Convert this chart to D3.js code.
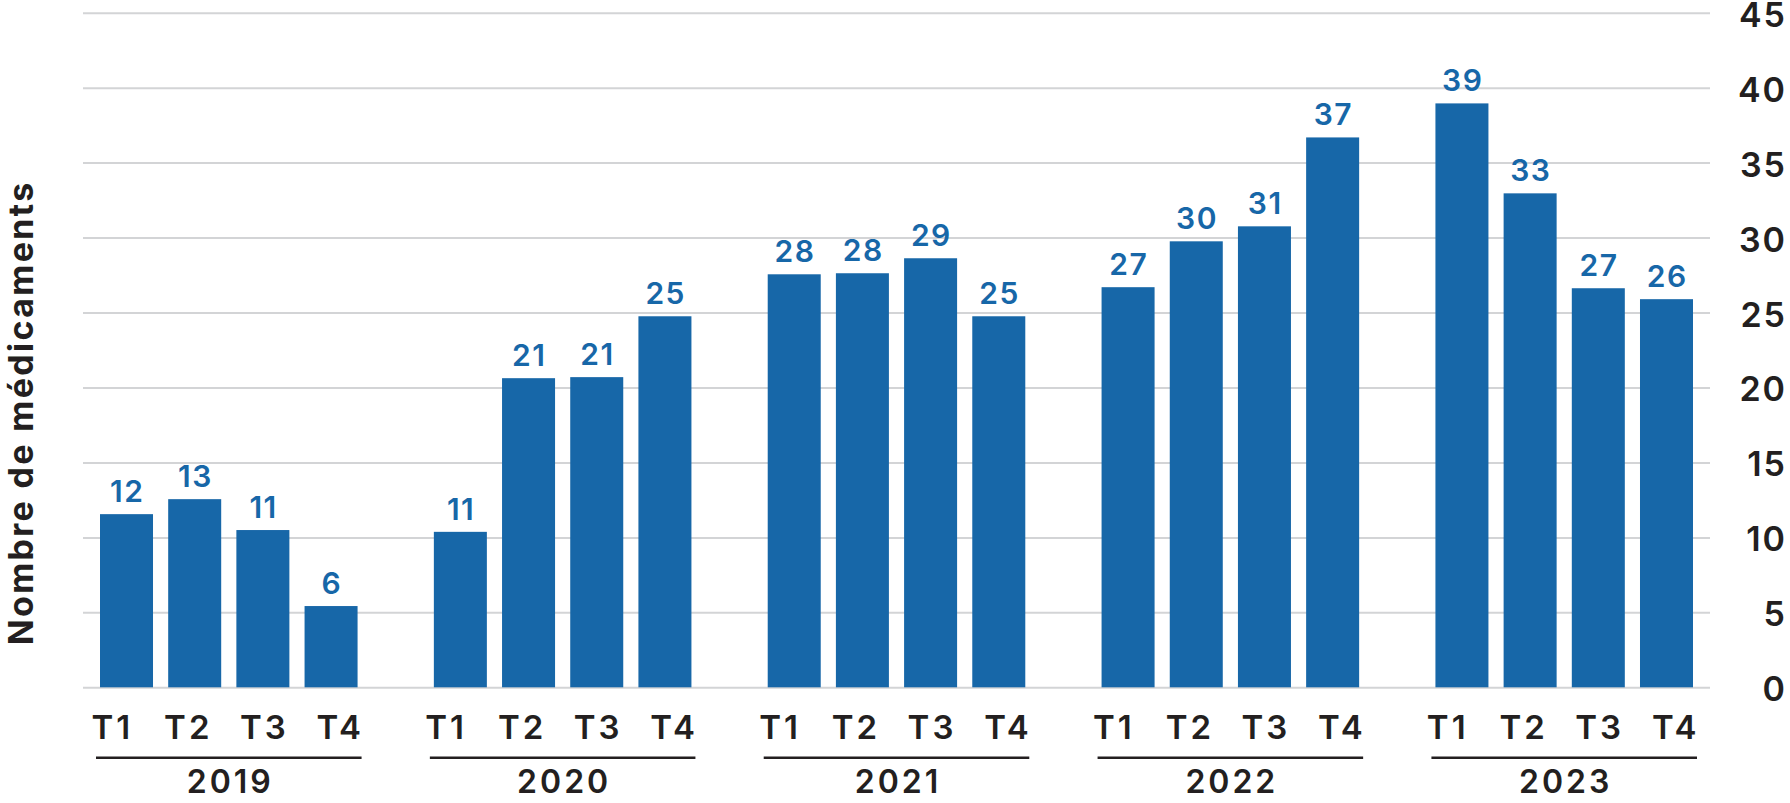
<!DOCTYPE html>
<html>
<head>
<meta charset="utf-8">
<script src="https://cdn.jsdelivr.net/npm/d3@7"></script>
<style>
  html, body { margin: 0; padding: 0; background: #fff; }
  svg { display: block; }
  text { font-family: Inter, "Open Sans", sans-serif; }
</style>
</head>
<body>
<svg id="chart" width="1790" height="803"></svg>
<script>
// ---- data ----
const years = ["2019", "2020", "2021", "2022", "2023"];
const quarters = ["T1", "T2", "T3", "T4"];
// bar heights as drawn
const values2019 = [11.55, 12.55, 10.49, 5.42];
const values2020 = [10.37, 20.62, 20.69, 24.75];
const values2021 = [27.55, 27.62, 28.62, 24.75];
const values2022 = [26.69, 29.75, 30.75, 36.68];
const values2023 = [38.95, 32.95, 26.62, 25.89];
// value labels as printed
const labels2019 = ["12", "13", "11", "6"];
const labels2020 = ["11", "21", "21", "25"];
const labels2021 = ["28", "28", "29", "25"];
const labels2022 = ["27", "30", "31", "37"];
const labels2023 = ["39", "33", "27", "26"];
const yTicks = [0, 5, 10, 15, 20, 25, 30, 35, 40, 45];
const yTitle = "Nombre de médicaments";

const valuesByYear = [values2019, values2020, values2021, values2022, values2023];
const labelsByYear = [labels2019, labels2020, labels2021, labels2022, labels2023];
const rows = [];
years.forEach((yr, i) => quarters.forEach((q, j) => rows.push({ year: yr, q, v: valuesByYear[i][j], label: labelsByYear[i][j] })));

// ---- layout ----
const BAR = "#1767a8";
const INK = "#231f20";
const GRID = "#d3d4d6";
const svg = d3.select("#chart");

const y = d3.scaleLinear().domain([0, 45]).range([687.3, 12.7]);
const x0 = d3.scaleBand().domain(years).range([100, 1693]).paddingInner(0.2285).paddingOuter(0);
const x1 = d3.scaleBand().domain(quarters).range([0, x0.bandwidth()]).paddingInner(0.2226).paddingOuter(0);
const xl = d3.scalePoint().domain(quarters).range([-118, 110]);

const gridLeft = 83, gridRight = 1710;

// gridlines + right tick labels
const TICK_LS = 2;
const yAxis = d3.axisRight(y).tickValues(yTicks).tickSize(gridRight - gridLeft).tickPadding(0);
const gy = svg.append("g").attr("transform", `translate(${gridLeft},0)`).call(yAxis);
gy.select(".domain").remove();
gy.selectAll(".tick line").attr("stroke", GRID).attr("stroke-width", 2);
gy.selectAll(".tick text")
  .attr("x", 1785 - gridLeft + TICK_LS)
  .attr("dy", null)
  .attr("y", 13.5)
  .attr("text-anchor", "end")
  .attr("fill", INK)
  .style("font-size", "34px")
  .style("font-weight", 600)
  .style("letter-spacing", TICK_LS + "px");

// bars
const groups = svg.append("g").selectAll("g")
  .data(years).join("g")
  .attr("transform", d => `translate(${x0(d)},0)`);

groups.selectAll("rect")
  .data(d => rows.filter(r => r.year === d)).join("rect")
  .attr("x", d => x1(d.q))
  .attr("width", x1.bandwidth())
  .attr("y", d => y(d.v))
  .attr("height", d => y(0) - y(d.v))
  .attr("fill", BAR);

// value labels
const VAL_LS = 1.5;
groups.selectAll("text.val")
  .data(d => rows.filter(r => r.year === d)).join("text")
  .attr("class", "val")
  .attr("x", d => x1(d.q) + x1.bandwidth() / 2 + VAL_LS / 2)
  .attr("y", d => y(d.v) - 12)
  .attr("text-anchor", "middle")
  .attr("fill", BAR)
  .style("font-size", "30px")
  .style("font-weight", 600)
  .style("letter-spacing", VAL_LS + "px")
  .text(d => d.label);

// quarter labels, underline, year labels
const bw = x0.bandwidth();
const Q_LS = 3;
groups.selectAll("text.q")
  .data(quarters).join("text")
  .attr("class", "q")
  .attr("x", d => bw / 2 + xl(d) + Q_LS / 2)
  .attr("y", 739)
  .attr("text-anchor", "middle")
  .attr("fill", INK)
  .style("font-size", "33px")
  .style("font-weight", 600)
  .style("letter-spacing", Q_LS + "px")
  .text(d => d);

groups.append("line")
  .attr("x1", -4).attr("x2", bw + 4)
  .attr("y1", 757.7).attr("y2", 757.7)
  .attr("stroke", INK).attr("stroke-width", 2.5);

const Y_LS = 3;
groups.append("text")
  .attr("x", bw / 2 + Y_LS / 2)
  .attr("y", 793)
  .attr("text-anchor", "middle")
  .attr("fill", INK)
  .style("font-size", "32px")
  .style("font-weight", 600)
  .style("letter-spacing", Y_LS + "px")
  .text(d => d);

// y title
const title = svg.append("text")
  .attr("transform", "translate(32.5,414) rotate(-90)")
  .attr("text-anchor", "middle")
  .attr("fill", INK)
  .style("font-size", "34px")
  .style("font-weight", 700)
  .text(yTitle);
const len = title.node().getComputedTextLength();
if (len > 0 && len < 465) {
  const ls = (465 - len) / yTitle.length;
  title.style("letter-spacing", ls.toFixed(2) + "px").attr("dx", (ls / 2).toFixed(2));
}
</script>
</body>
</html>
